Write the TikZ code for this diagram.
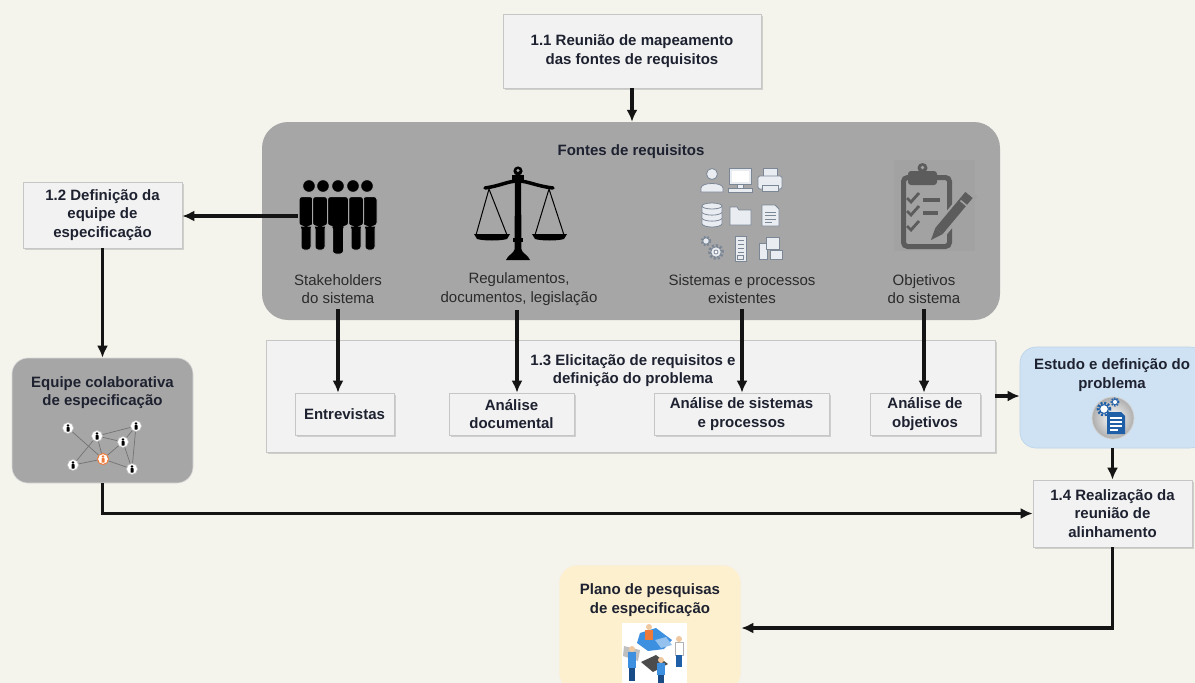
\documentclass[tikz,border=0pt]{standalone}
\usepackage{fontspec}
\setmainfont{Liberation Sans}
\usetikzlibrary{arrows.meta,shadows,calc}

\definecolor{paper}{HTML}{F4F3EC}
\definecolor{srcgray}{HTML}{A6A6A6}
\definecolor{boxfill}{HTML}{F2F2F2}
\definecolor{boxline}{HTML}{C6C6C6}
\definecolor{ink}{HTML}{1E2230}
\definecolor{softink}{HTML}{2B2B2B}
\definecolor{studyblue}{HTML}{CFE2F3}
\definecolor{studyline}{HTML}{B9D3EA}
\definecolor{planyellow}{HTML}{FDF0CF}
\definecolor{iconfill}{HTML}{E9EDF2}
\definecolor{iconline}{HTML}{7C8796}
\definecolor{clipgray}{HTML}{5C5C5C}
\definecolor{clipbg}{HTML}{A2A2A2}
\definecolor{netorange}{HTML}{F07A3A}
\definecolor{docblue}{HTML}{1F5FA8}
\definecolor{puzzleblue}{HTML}{3D8FE0}
\definecolor{skin}{HTML}{F0C8A0}

\tikzset{
  txt/.style={font=\fontsize{15}{18.5}\selectfont, text=softink, align=center, inner sep=0pt},
  btxt/.style={font=\fontsize{15}{18.5}\selectfont\bfseries, text=ink, align=center, inner sep=0pt},
  stepbox/.style={btxt, fill=boxfill, draw=boxline, line width=0.6pt,
    drop shadow={shadow xshift=1.5pt, shadow yshift=-2pt, opacity=0.3}},
  groupbox/.style={fill=boxfill, draw=boxline, line width=0.8pt,
    drop shadow={shadow xshift=1.5pt, shadow yshift=-2pt, opacity=0.3}},
  srcpanel/.style={fill=srcgray, rounded corners=26pt, draw=none},
  teambox/.style={fill=srcgray, draw=black!15, line width=0.6pt, rounded corners=16pt},
  studybox/.style={fill=studyblue, draw=studyline, line width=0.6pt, rounded corners=16pt},
  planbox/.style={fill=planyellow, draw=planyellow!80!black!20, line width=0.6pt, rounded corners=18pt},
  flow/.style={draw=black!92, line width=3.2pt, -{Latex[length=12pt,width=11pt]}},
  ico/.style={fill=iconfill, draw=iconline, line width=0.8pt},
  netnode/.style={circle, fill=white, draw=black!25, line width=0.6pt, minimum size=11pt, inner sep=0pt},
  netedge/.style={draw=black!55, line width=0.7pt},
  miniperson/.pic={\fill (0,-2.6) circle (1.4pt); \fill[rounded corners=0.6pt] (-1.5,-0.9) rectangle (1.5,3.6);}
}

% one stakeholder silhouette: head x, body x, torso half width, leg half width, foot y
\newcommand\stakeperson[5]{%
  \filldraw[fill=black, draw=srcgray, line width=1pt] (#1,186) circle (6.4pt);
  \filldraw[fill=black, draw=srcgray, line width=1pt, rounded corners=3pt]
    (#2-#3,226) -- (#2-#3,196.5) -- (#2+#3,196.5) -- (#2+#3,226) -- (#2+#4,226)
    -- (#2+#4,#5) -- (#2-#4,#5) -- (#2-#4,226) -- cycle;
}

\begin{document}
\begin{tikzpicture}[x=1pt,y=-1pt]
\useasboundingbox (0,0) rectangle (1195,683);
\fill[paper] (0,0) rectangle (1195,683);

% ---------- step 1.1 ----------
\node[stepbox, minimum width=258pt, minimum height=74pt] (b11) at (632,51)
  {1.1 Reunião de mapeamento\\das fontes de requisitos};

% ---------- requirement sources panel ----------
\node[srcpanel, minimum width=738pt, minimum height=198pt] (fontes) at (631,221) {};
\node[btxt] (fontestit) at (631,152) {Fontes de requisitos};

% stakeholders icon
\node[inner sep=0pt, minimum width=80pt, minimum height=70pt] (stk) at (338,216) {};
\stakeperson{309}{306}{7}{5}{250}
\stakeperson{367}{370}{7}{5}{250}
\stakeperson{323}{320}{7.5}{5}{250}
\stakeperson{353}{356}{7.5}{5}{250}
\stakeperson{338}{338}{10.5}{5.5}{254}

% scale of justice
\fill[black] (518,171) circle (4.6pt);
\fill[srcgray] (518,170.5) circle (1.6pt);
\fill[black] (512,175) rectangle (524,181);
\draw[black, line width=3.5pt, line cap=round]
  (485,188) .. controls (500,186) and (508,181) .. (518,181)
  .. controls (528,181) and (536,186) .. (553,188);
\fill[black] (515,181) -- (521,181) -- (521.5,250) -- (514.5,250) -- cycle;
\fill[black] (513,238) rectangle (523,242);
\fill[black] (515,249) .. controls (513,254) and (508,255) .. (506,260) -- (530,260)
  .. controls (528,255) and (523,254) .. (521,249) -- cycle;
\draw[black, line width=1pt] (489,189) -- (476,235) (489,189) -- (507,235)
  (549,189) -- (535,235) (549,189) -- (564,235);
\fill[black] (474,234) -- (510,234) -- (507,239) .. controls (500,241) and (484,241) .. (477,239) -- cycle;
\fill[black] (532,234) -- (567,234) -- (564,239) .. controls (557,241) and (542,241) .. (535,239) -- cycle;

% existing systems icon grid
\filldraw[ico] (701,192) -- (701,188) .. controls (701,182) and (723,182) .. (723,188) -- (723,192) -- cycle;
\filldraw[ico] (712,174) circle (5.5pt);
\filldraw[ico] (729,168) rectangle (751,184);
\fill[white] (731.5,170.5) rectangle (748.5,181.5);
\filldraw[ico] (737,184) rectangle (743,188);
\filldraw[ico] (728,188) rectangle (752,192);
\filldraw[ico] (763,168) rectangle (777,177);
\filldraw[ico, rounded corners=1.5pt] (758,176) rectangle (782,189);
\filldraw[ico] (762,185) rectangle (778,191);
\filldraw[ico] (702,206) -- (702,224) .. controls (704,228) and (720,228) .. (722,224) -- (722,206) -- cycle;
\filldraw[ico] (712,206) ellipse (10pt and 3pt);
\draw[iconline, line width=0.8pt] (702,212.5) .. controls (705,216) and (719,216) .. (722,212.5)
  (702,218.5) .. controls (705,222) and (719,222) .. (722,218.5);
\filldraw[ico] (730,207) -- (737,207) -- (739,210) -- (751,210) -- (751,225) -- (730,225) -- cycle;
\filldraw[ico] (762,205) -- (775,205) -- (779,209) -- (779,226) -- (762,226) -- cycle;
\draw[iconline, line width=0.6pt] (765,212) -- (776,212) (765,215.5) -- (776,215.5)
  (765,219) -- (776,219) (765,222.5) -- (772,222.5);
\draw[iconline, line width=2.4pt, dash pattern=on 1.8pt off 1.6pt] (706,241) circle (4.2pt);
\filldraw[ico] (706,241) circle (3.2pt);
\draw[iconline, line width=2.8pt, dash pattern=on 2.2pt off 1.8pt] (716,252) circle (6.5pt);
\filldraw[ico] (716,252) circle (5.2pt);
\filldraw[fill=white, draw=iconline, line width=0.8pt] (716,252) circle (2pt);
\filldraw[ico] (735,236) rectangle (746,261);
\draw[iconline, line width=0.7pt] (737.5,240) -- (743.5,240) (737.5,244) -- (743.5,244)
  (737.5,248) -- (743.5,248) (737.5,252) -- (743.5,252);
\filldraw[ico] (737.5,255) rectangle (743.5,259);
\filldraw[ico] (759,243) rectangle (767,259);
\filldraw[ico] (766,237) rectangle (779,249);
\filldraw[ico] (770,250) rectangle (782,259);

% objectives clipboard icon
\fill[clipbg] (894,160) rectangle (975,251);
\draw[clipgray, line width=5pt, rounded corners=4pt] (903.5,177.5) rectangle (949.5,246.5);
\fill[clipgray, rounded corners=3pt] (908,171) rectangle (937,185);
\fill[clipgray] (922.5,168) circle (5pt);
\fill[clipbg] (922.5,167.5) circle (1.8pt);
\foreach \yy in {198,211,226} {
  \draw[clipgray, line width=2.8pt] (907,\yy) -- (911,\yy+4) -- (919,\yy-5);
}
\draw[clipgray, line width=4pt] (923,200) -- (940,200) (923,213) -- (938,213);
\draw[clipbg, line width=15pt] (935,237) -- (972,192);
\draw[clipgray, line width=9.5pt] (939,231) -- (969,195);
\fill[clipgray] (942.7,234.1) -- (935.3,228.0) -- (931,240) -- cycle;
\draw[clipbg, line width=1.6pt] (960.5,200.5) -- (967,206);

% source labels
\node[txt] (lstk) at (338,289) {Stakeholders\\do sistema};
\node[txt] (lreg) at (519,289) {Regulamentos,\\documentos, legislação};
\node[txt] (lsis) at (742,289) {Sistemas e processos\\existentes};
\node[txt] (lobj) at (924,289) {Objetivos\\do sistema};

\draw[flow] (b11.south) -- (b11.south |- fontes.north);

% ---------- step 1.2 and team ----------
\node[stepbox, minimum width=159pt, minimum height=66pt] (b12) at (102.5,215)
  {1.2 Definição da\\equipe de\\especificação};
\node[teambox, minimum width=181pt, minimum height=125pt] (eq) at (102.5,420.5) {};
\node[btxt] (eqtit) at (102.5,392.5) {Equipe colaborativa\\de especificação};

% collaboration network
\node[netnode] (nA) at (68,428) {};
\node[netnode] (nB) at (97,436) {};
\node[netnode] (nC) at (136,426) {};
\node[netnode] (nD) at (123,442) {};
\node[netnode, draw=netorange, line width=1pt] (nE) at (103,459) {};
\node[netnode] (nF) at (73,465) {};
\node[netnode] (nG) at (132,469) {};
\foreach \a/\b in {nA/nE, nB/nC, nB/nD, nB/nE, nB/nF, nC/nD, nC/nG, nD/nE, nD/nG, nE/nF, nE/nG}
  \draw[netedge] (\a) -- (\b);
\foreach \n in {nA,nB,nC,nD,nF,nG}
  \pic[black] at (\n) {miniperson};
\pic[netorange] at (nE) {miniperson};

% ---------- step 1.3 ----------
\node[groupbox, minimum width=729pt, minimum height=112pt] (b13) at (630.5,396) {};
\node[btxt] (b13tit) at (633,370.5) {1.3 Elicitação de requisitos e\\definição do problema};
\node[stepbox, minimum width=99pt, minimum height=42pt] (entr) at (344.5,414) {Entrevistas};
\node[stepbox, minimum width=125pt, minimum height=42pt] (adoc) at (511.5,414) {Análise\\documental};
\node[stepbox, minimum width=175pt, minimum height=42pt] (asis) at (741.5,414) {Análise de sistemas\\e processos};
\node[stepbox, minimum width=110pt, minimum height=42pt] (aobj) at (925,414) {Análise de\\objetivos};

\draw[flow] ([yshift=-5pt]lstk.south) -- (lstk.south |- entr.north);
\draw[flow] ([xshift=-2pt,yshift=-5pt]lreg.south) -- ([xshift=-2pt]lreg.south |- adoc.north);
\draw[flow] ([yshift=-5pt]lsis.south) -- (lsis.south |- asis.north);
\draw[flow] ([yshift=-5pt]lobj.south) -- (lobj.south |- aobj.north);

% ---------- problem study ----------
\node[studybox, minimum width=186pt, minimum height=101pt] (est) at (1113,397.5) {};
\node[btxt] (esttit) at (1112,375) {Estudo e definição do\\problema};
\shade[inner color=white, outer color=black!32] (1113,418) circle (21pt);
\draw[black!18, line width=0.8pt] (1113,418) circle (21pt);
\draw[docblue, line width=2.6pt, dash pattern=on 2pt off 1.6pt] (1104,409) circle (6pt);
\filldraw[fill=white, draw=docblue, line width=1pt] (1104,409) circle (4.4pt);
\draw[docblue, line width=1.8pt, dash pattern=on 1.4pt off 1.2pt] (1115,402) circle (3.6pt);
\filldraw[fill=white, draw=docblue, line width=0.8pt] (1115,402) circle (2.6pt);
\fill[docblue] (1107,412) -- (1121,412) -- (1125,416) -- (1125,434) -- (1107,434) -- cycle;
\draw[white, line width=1.2pt] (1110,418) -- (1122,418) (1110,422) -- (1122,422)
  (1110,426) -- (1122,426) (1110,430) -- (1118,430);

% ---------- step 1.4 ----------
\node[stepbox, minimum width=159pt, minimum height=67pt] (b14) at (1112.5,513.5)
  {1.4 Realização da\\reunião de\\alinhamento};

% ---------- research plan ----------
\node[planbox, minimum width=182pt, minimum height=126pt] (plano) at (650,628) {};
\node[btxt] (planotit) at (650,600) {Plano de pesquisas\\de especificação};
\fill[white] (622,623) rectangle (687,690);
\fill[black!25] (624,646) -- (640,650) -- (638,661) -- (623,656) -- cycle;
\fill[puzzleblue] (640,633) -- (656,628) -- (672,640) -- (664,649) -- (648,651) -- (637,643) -- cycle;
\fill[puzzleblue!55] (655,640) -- (666,637) -- (672,645) -- (661,648) -- cycle;
\fill[black!70] (641,662) -- (656,655) -- (668,664) -- (653,672) -- cycle;
\fill[skin] (649,627) circle (3pt);
\fill[netorange] (645,630) rectangle (653,640);
\fill[skin] (679,639) circle (3pt);
\fill[white, draw=black!30, line width=0.4pt] (675,642) rectangle (683,655);
\fill[docblue] (676,655) rectangle (682,667);
\fill[skin] (632,649) circle (3pt);
\fill[puzzleblue] (628,652) rectangle (636,668);
\fill[docblue!80!black] (629,668) rectangle (635,681);
\fill[skin] (661,660) circle (3pt);
\fill[puzzleblue] (657,663) rectangle (665,675);
\fill[docblue!80!black] (658,675) rectangle (664,683);

% ---------- connectors ----------
\draw[flow] (stk.west) -- (stk.west -| b12.east);
\draw[flow] (b12.south) -- (eq.north);
\draw[flow] (eq.south) |- (b14.west);
\draw[flow] (b13.east) -- (b13.east -| est.west);
\draw[flow] (b14.north |- est.south) -- (b14.north);
\draw[flow] (b14.south) |- (plano.east);
\end{tikzpicture}
\end{document}
